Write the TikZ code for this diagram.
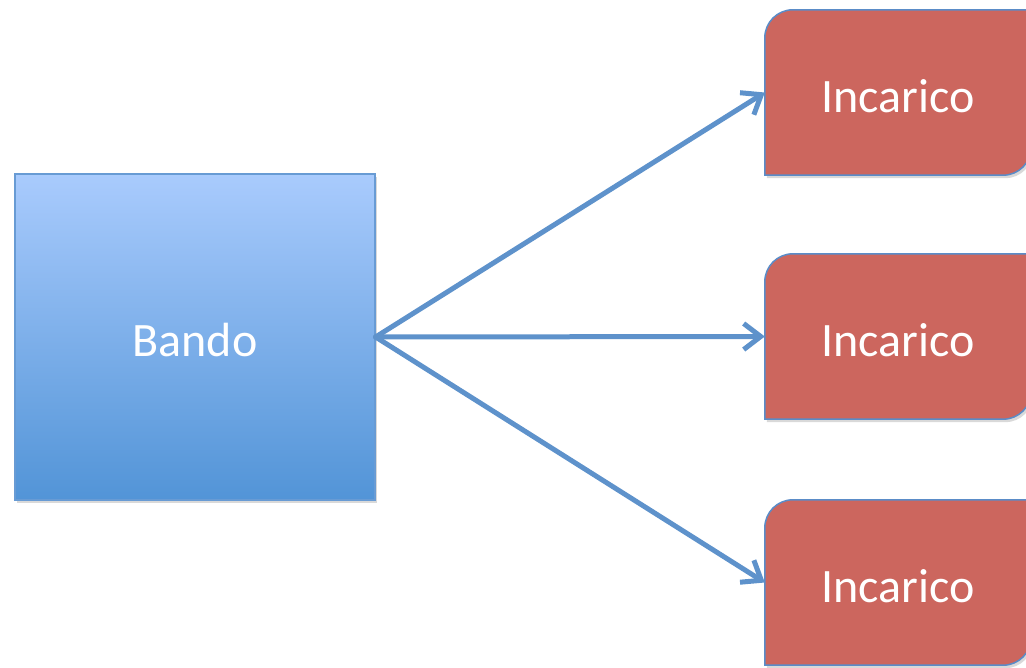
\documentclass[tikz,border=0pt]{standalone}
\usepackage{fontspec}
\setmainfont{Carlito}
\usetikzlibrary{arrows.meta, positioning, shadows, backgrounds}
\definecolor{bandotop}{RGB}{169,203,253}
\definecolor{bandobottom}{RGB}{82,148,215}
\definecolor{bandoline}{RGB}{104,155,212}
\definecolor{incaricored}{RGB}{204,102,94}
\definecolor{incaricoline}{RGB}{90,140,200}
\definecolor{arrowblue}{RGB}{94,146,203}
\tikzstyle{bandobox} = [rectangle, draw=bandoline, line width=1.2pt, top color=bandotop, bottom color=bandobottom, minimum width=360pt, minimum height=326pt, text=white, font=\fontsize{48}{56}\selectfont, text height=40pt, text depth=0pt, drop shadow={shadow xshift=2pt, shadow yshift=-3pt, opacity=0.3}]
\tikzstyle{incaricobox} = [rectangle, minimum width=266pt, minimum height=165pt, text=white, font=\fontsize{48}{56}\selectfont, text height=40pt, text depth=0pt]
\tikzstyle{incaricofill} = [fill=incaricored, draw=incaricoline, line width=1.5pt, drop shadow={shadow xshift=2pt, shadow yshift=-3pt, opacity=0.3}]
\tikzstyle{arrow} = [line width=5pt, arrowblue, -{Straight Barb[length=17pt, width=26pt]}, line cap=round, line join=round]

\begin{document}
\begin{tikzpicture}[x=1pt, y=-1pt]
\useasboundingbox (0,0) rectangle (1026,668);

% Bando
\node[bandobox] (bando) at (195,337) {Bando};

% Incarichi
\foreach \n/\y in {inc1/92.5, inc2/336.5, inc3/582.5} {
    \node[incaricobox] (\n) at (898,\y) {Incarico};
    \begin{scope}[on background layer]
        \filldraw[incaricofill] (\n.south west) -- ([yshift=-28pt]\n.north west)
            arc[start angle=180, end angle=90, radius=28pt] -- (\n.north east)
            -- ([yshift=28pt]\n.south east)
            arc[start angle=0, end angle=-90, radius=28pt] -- cycle;
    \end{scope}
    \draw[arrow] (bando.east) -- (\n.west);
}
\end{tikzpicture}
\end{document}
